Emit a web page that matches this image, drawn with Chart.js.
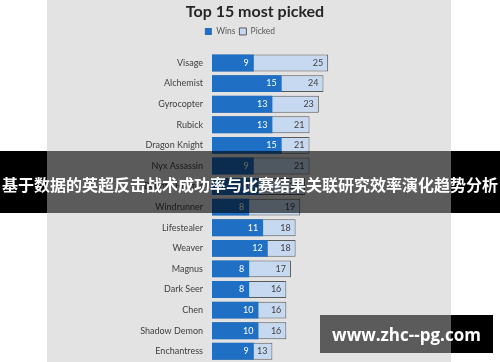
<!DOCTYPE html>
<html>
<head>
<meta charset="utf-8">
<script src="https://cdn.jsdelivr.net/npm/chart.js@4/dist/chart.umd.min.js"></script>
<style>
  html, body { margin: 0; padding: 0; background: #ffffff; }
  #wrap { position: relative; width: 500px; height: 362px; overflow: hidden; }
  #panel { position: absolute; left: 47px; top: 0; width: 404px; height: 362px; background: #e3e3e3; }
  #chartBox { position: absolute; left: 0; top: 0; width: 500px; height: 376px; }
  .shade { position: absolute; background: rgba(0, 0, 0, 0.6); }
  .solid { position: absolute; background: #000000; }
  #banner {
    position: absolute; left: 0; top: 151px; width: 500px; height: 62px;
    display: flex; align-items: center; justify-content: center;
    color: #ffffff; font: bold 16px "Noto Sans CJK SC", sans-serif;
    white-space: nowrap; padding-top: 4px; box-sizing: border-box;
  }
  #mark {
    position: absolute; left: 320px; top: 315px; width: 173px; height: 38px;
    display: flex; align-items: center; justify-content: center;
    color: #ffffff; font: bold 17px "Open Sans", sans-serif;
  }
</style>
</head>
<body>
<div id="wrap">
  <div id="panel"></div>
  <div id="chartBox"><canvas id="pickChart" width="500" height="376"></canvas></div>

  <!-- banner overlay -->
  <div class="shade" style="left:47px; top:151px; width:404px; height:62px;"></div>
  <div class="solid" style="left:0; top:151px; width:47px; height:62px;"></div>
  <div class="solid" style="left:451px; top:151px; width:49px; height:62px;"></div>
  <div id="banner">基于数据的英超反击战术成功率与比赛结果关联研究效率演化趋势分析</div>

  <!-- watermark -->
  <div class="shade" style="left:320px; top:315px; width:131px; height:38px;"></div>
  <div class="solid" style="left:451px; top:315px; width:42px; height:38px;"></div>
  <div id="mark">www.zhc--pg.com</div>
</div>

<script>
// =========================
// DATA
// =========================

const heroes = [
    "Visage", "Alchemist", "Gyrocopter", "Rubick", "Dragon Knight",
    "Nyx Assassin", "Bounty Hunter", "Windrunner", "Lifestealer", "Weaver",
    "Magnus", "Dark Seer", "Chen", "Shadow Demon", "Enchantress"
];

const wins   = [9, 15, 13, 13, 15, 9, 10, 8, 11, 12, 8, 8, 10, 10, 9];
const picked = [25, 24, 23, 21, 21, 21, 20, 19, 18, 18, 17, 16, 16, 16, 13];

const FONT = "Lato, 'Open Sans', sans-serif";

// =========================
// VALUE LABELS + HEADER NUDGE
// =========================

const valueLabels = {
    id: "valueLabels",
    afterLayout(chart) {
        // legend sits a little left of centre, title a little right
        chart.legend.left -= 10;
        chart.legend.right -= 10;
        chart.titleBlock.left += 5;
        chart.titleBlock.right += 5;
    },
    afterDatasetsDraw(chart) {
        const ctx = chart.ctx;
        ctx.save();
        ctx.font = "9px " + FONT;
        ctx.textAlign = "right";
        ctx.textBaseline = "middle";
        chart.data.datasets.forEach((ds, i) => {
            const meta = chart.getDatasetMeta(i);
            meta.data.forEach((bar, j) => {
                ctx.fillStyle = i === 0 ? "#ffffff" : "#404040";
                ctx.fillText(ds.data[j], bar.x - 5, bar.y);
            });
        });
        ctx.restore();
    }
};

// =========================
// CHART
// =========================

new Chart(document.getElementById("pickChart"), {
    type: "bar",
    data: {
        labels: heroes,
        datasets: [
            {
                label: "Wins",
                data: wins,
                backgroundColor: "#1f6fc5",
                borderWidth: 0
            },
            {
                label: "Picked",
                data: picked,
                backgroundColor: "#c6d9f0",
                borderColor: "#5a5a5a",
                borderWidth: 1
            }
        ]
    },
    options: {
        indexAxis: "y",
        responsive: false,
        animation: false,
        grouped: false,
        categoryPercentage: 1,
        barPercentage: 0.82,
        layout: { padding: { left: 0, right: 0, top: 0, bottom: 2 } },
        scales: {
            x: {
                position: "top",
                min: 0,
                max: 62,
                afterFit(scale) { scale.height = 7; },
                grid: { display: false, drawTicks: false },
                border: { display: false },
                ticks: { display: false }
            },
            y: {
                afterFit(scale) { scale.width = 212; },
                grid: { display: false, drawTicks: false },
                border: { display: false },
                ticks: { padding: 9, color: "#404040", font: { family: FONT, size: 9 } }
            }
        },
        plugins: {
            title: {
                display: true,
                text: "Top 15 most picked",
                color: "#262626",
                font: { family: FONT, size: 16, weight: "bold" },
                padding: { top: 2, bottom: 2 }
            },
            legend: {
                labels: {
                    boxWidth: 7,
                    boxHeight: 7,
                    padding: 4,
                    color: "#595959",
                    font: { family: FONT, size: 8.5 }
                }
            },
            tooltip: { enabled: false }
        }
    },
    plugins: [valueLabels]
});
</script>
</body>
</html>
